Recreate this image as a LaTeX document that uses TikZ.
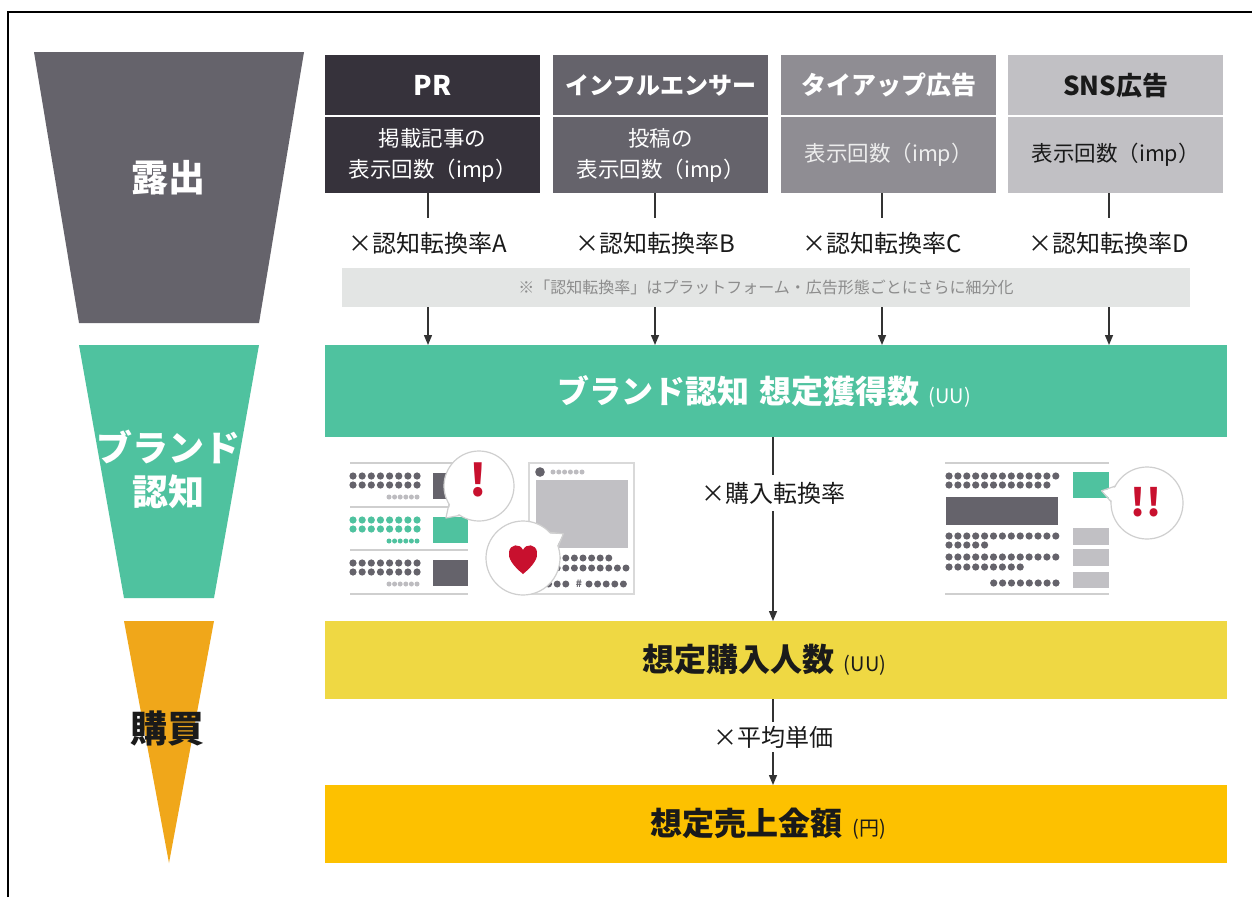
\documentclass[tikz,border=0pt]{standalone}
\usepackage{fontspec}
\setmainfont{Noto Sans CJK JP}
\usetikzlibrary{arrows.meta,calc,backgrounds}

\definecolor{funnelgray}{HTML}{65636B}
\definecolor{prc}{HTML}{36323B}
\definecolor{infc}{HTML}{65636B}
\definecolor{tiec}{HTML}{8F8D93}
\definecolor{snsc}{HTML}{C1C0C4}
\definecolor{notec}{HTML}{E3E5E4}
\definecolor{notetext}{HTML}{8C8C8C}
\definecolor{tealc}{HTML}{4FC29F}
\definecolor{yellowc}{HTML}{EFD843}
\definecolor{amberc}{HTML}{FDC100}
\definecolor{funnelorange}{HTML}{F0A71A}
\definecolor{dotdark}{HTML}{65636B}
\definecolor{dotlight}{HTML}{BDBCC0}
\definecolor{rulegray}{HTML}{CFCFCF}
\definecolor{alertred}{HTML}{C8102E}
\definecolor{inkc}{HTML}{1A1A1A}
\definecolor{arrowc}{HTML}{333333}

\newcommand{\unitfont}{\mdseries\fontsize{20}{22}\selectfont}
\newcommand{\talkbubble}[4]{%
  \draw[draw=rulegray, line width=1.2pt, fill=white] (#1) circle[radius=#2];
  \fill[white] ($(#1)+({#3-13}:{#2-2})$) -- ($(#1)+(#3:#4)$) -- ($(#1)+({#3+13}:{#2-2})$) -- cycle;
  \draw[draw=rulegray, line width=1.2pt, line join=round] ($(#1)+({#3-13}:#2)$) -- ($(#1)+(#3:#4)$) -- ($(#1)+({#3+13}:#2)$);
}

\begin{document}
\begin{tikzpicture}[x=1pt,y=-1pt,
  stage/.style={inner sep=0pt, align=center, font=\bfseries\fontsize{37}{44}\selectfont},
  hdr/.style={anchor=north west, minimum width=215pt, minimum height=60pt, inner sep=0pt, font=\bfseries\fontsize{24}{30}\selectfont},
  bdy/.style={anchor=north west, minimum width=215pt, minimum height=76pt, inner sep=0pt, align=center, font=\fontsize{21.5}{31}\selectfont},
  conv/.style={fill=white, inner xsep=3pt, inner ysep=0pt, minimum height=50pt, text=inkc, font=\fontsize{24}{26}\selectfont},
  midconv/.style={fill=white, inner xsep=3pt, inner ysep=0pt, text=inkc, font=\fontsize{24}{26}\selectfont},
  notebar/.style={fill=notec, minimum width=848pt, minimum height=39pt, inner sep=0pt, text=notetext, font=\fontsize{16}{18}\selectfont},
  barbox/.style={anchor=north west, minimum width=902pt, inner sep=0pt},
  bartitle/.style={inner sep=0pt, font=\bfseries\fontsize{32}{36}\selectfont},
  arr/.style={draw=arrowc, line width=1.4pt, -{Triangle[length=10pt,width=8pt]}},
  ruleline/.style={draw=rulegray, line width=1.6pt},
  alertmark/.style={text=alertred, inner sep=0pt, font=\bfseries\fontsize{44}{44}\selectfont}
]
\useasboundingbox (0,0) rectangle (1252,897);
\begin{pgfonlayer}{background}
  \fill[white] (0,0) rectangle (1252,897);
\end{pgfonlayer}

% outer frame
\draw[line width=2pt] (8,897) -- (8,12) -- (1252,12);

% funnel stages
\fill[funnelgray] (34,52) -- (304,52) -- (259,323) -- (79,323) -- cycle;
\fill[tealc] (79,345) -- (259,345) -- (214,598) -- (124,598) -- cycle;
\fill[funnelorange] (124,621) -- (214,621) -- (169,863) -- cycle;
\node[stage, text=white] (expo) at (168,178) {露出};
\node[stage, text=white, font=\bfseries\fontsize{36}{44}\selectfont] (recog) at (168,469) {ブランド\\認知};
\node[stage, text=inkc] (purch) at (167,729) {購買};

% media columns
\node[hdr, fill=prc, text=white, font=\bfseries\fontsize{27}{30}\selectfont] (prh) at (325,55) {PR};
\node[bdy, fill=prc, text=white] (prb) at (325,117) {掲載記事の\\表示回数（imp）};
\node[hdr, fill=infc, text=white] (infh) at (553,55) {インフルエンサー};
\node[bdy, fill=infc, text=white] (infb) at (553,117) {投稿の\\表示回数（imp）};
\node[hdr, fill=tiec, text=white, font=\bfseries\fontsize{25}{30}\selectfont] (tieh) at (781,55) {タイアップ広告};
\node[bdy, fill=tiec, text=white!93!black] (tieb) at (781,117) {表示回数（imp）};
\node[hdr, fill=snsc, text=inkc, font=\bfseries\fontsize{26}{30}\selectfont] (snsh) at (1008,55) {SNS広告};
\node[bdy, fill=snsc, text=inkc] (snsb) at (1008,117) {表示回数（imp）};

% conversion labels
\node[conv] (cvA) at (428,243) {×認知転換率A};
\node[conv] (cvB) at (655,243) {×認知転換率B};
\node[conv] (cvC) at (882,243) {×認知転換率C};
\node[conv] (cvD) at (1109,243) {×認知転換率D};

\node[notebar] (note) at (766,287.5) {※「認知転換率」はプラットフォーム・広告形態ごとにさらに細分化};

% result bars
\node[barbox, fill=tealc, minimum height=92pt] (aware) at (325,345) {};
\node[bartitle, text=white] (awaret) at ([xshift=-12pt]aware.center) {ブランド認知\hspace{0.3em}想定獲得数\hspace{0.3em}{\unitfont(UU)}};
\node[barbox, fill=yellowc, minimum height=78pt] (buy) at (325,621) {};
\node[bartitle, text=inkc] (buyt) at ([xshift=-12pt]buy.center) {想定購入人数\hspace{0.3em}{\unitfont(UU)}};
\node[barbox, fill=amberc, minimum height=78pt] (sales) at (325,785) {};
\node[bartitle, text=inkc] (salest) at ([xshift=-8pt]sales.center) {想定売上金額\hspace{0.3em}{\unitfont(円)}};

\node[midconv, minimum height=36pt] (cvE) at (773,493) {×購入転換率};
\node[midconv, minimum height=30pt] (cvF) at (773,737) {×平均単価};

% connectors
\begin{pgfonlayer}{background}
  \foreach \col/\lab in {prb/cvA, infb/cvB, tieb/cvC, snsb/cvD}
    \draw[arr] (\lab |- \col.south) -- (\lab |- aware.north);
  \draw[arr] (aware.south -| cvE) -- (buy.north -| cvE);
  \draw[arr] (buy.south -| cvF) -- (sales.north -| cvF);
\end{pgfonlayer}

% ---- left illustration: article list ----
\foreach \y in {463,507,550,594} \draw[ruleline] (350,\y) -- (468,\y);
\foreach \y/\c in {476/dotdark, 520/tealc, 563/dotdark} {
  \foreach \i in {0,...,7} {
    \fill[\c] (353+\i*9.15,\y) circle[radius=3.6];
    \fill[\c] (353+\i*9.15,\y+9) circle[radius=3.6];
  }
}
\foreach \i in {0,...,5} {
  \fill[dotlight] (389+\i*5.6,497) circle[radius=2.5];
  \fill[tealc] (389+\i*5.6,541) circle[radius=2.5];
  \fill[dotlight] (389+\i*5.6,584) circle[radius=2.5];
}
\fill[dotdark] (433,473) rectangle (468,499);
\fill[tealc] (433,517) rectangle (468,543);
\fill[dotdark] (433,560) rectangle (468,586);

% post card
\draw[draw=rulegray!80, line width=1.3pt, fill=white] (529,463) rectangle (634,594);
\fill[dotdark] (540,472) circle[radius=4.8];
\foreach \i in {0,...,5} \fill[dotlight] (553+\i*5.8,472) circle[radius=2.5];
\fill[snsc] (536,480) rectangle (628,548);
\foreach \i in {0,...,8} \fill[dotdark] (540+\i*8.6,558) circle[radius=3.5];
\foreach \i in {0,...,10} \fill[dotdark] (540+\i*8.6,568) circle[radius=3.5];
\foreach \i in {0,...,3} \fill[dotdark] (540+\i*8.6,584) circle[radius=3.5];
\node[text=dotdark, inner sep=0pt, font=\bfseries\fontsize{10}{10}\selectfont] (tag) at (579,584) {\#};
\foreach \i in {0,...,4} \fill[dotdark] (589+\i*8.6,584) circle[radius=3.5];

% speech bubbles
\talkbubble{479,486}{35}{136}{46}
\node[alertmark] (ex1) at (478,480) {!};
\talkbubble{523,558}{37}{-31}{47}
\fill[alertred] (523,574) .. controls (512,565) and (508,558) .. (509,552)
  .. controls (510,544) and (520,543) .. (523,550)
  .. controls (526,543) and (536,544) .. (537,552)
  .. controls (538,558) and (534,565) .. (523,574) -- cycle;

% ---- right illustration: web page ----
\draw[ruleline] (945,463) -- (1109,463);
\draw[ruleline] (945,594) -- (1109,594);
\foreach \y/\n in {476/12, 485/11, 536/12, 545/4, 557/12, 567/8}
  \foreach \i in {0,...,\n} \fill[dotdark] (949+\i*8.9,\y) circle[radius=3.6];
\foreach \i in {0,...,7} \fill[dotdark] (993.7+\i*8.9,583) circle[radius=3.6];
\fill[dotdark] (946,497) rectangle (1058,525);
\fill[tealc] (1073,472) rectangle (1109,498);
\fill[snsc] (1073,528) rectangle (1109,545);
\fill[snsc] (1073,549) rectangle (1109,566);
\fill[snsc] (1073,572) rectangle (1109,588);
\talkbubble{1147,503}{36}{195}{47}
\node[alertmark, font=\bfseries\fontsize{38}{38}\selectfont] (ex2) at (1146,502) {!!};
\end{tikzpicture}
\end{document}
